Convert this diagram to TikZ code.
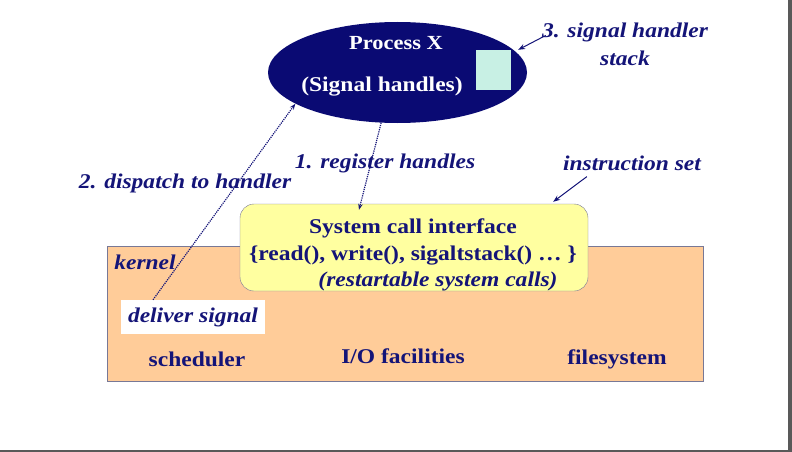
\documentclass[tikz,border=0pt]{standalone}
\usepackage{fontspec}
\setmainfont[FakeStretch=1.12]{Liberation Serif}
\usetikzlibrary{shapes.geometric}
\usetikzlibrary{arrows.meta}
\definecolor{navy}{RGB}{20,20,120}
\definecolor{procblue}{RGB}{10,10,115}
\definecolor{peach}{RGB}{255,204,153}
\definecolor{paleyellow}{RGB}{255,255,160}
\definecolor{stackgreen}{RGB}{200,240,228}
\definecolor{edgegray}{RGB}{120,120,150}
\tikzset{lbl/.style={text=navy, inner sep=0pt,
  font=\bfseries\itshape\fontsize{21}{25}\selectfont}}
\tikzset{txt/.style={text=navy, inner sep=0pt,
  font=\bfseries\fontsize{21}{25}\selectfont}}
\tikzset{dots/.style={navy, densely dotted, line width=1.2pt, -{Stealth[length=6pt]}}}
\tikzset{pointer/.style={navy, line width=1pt, -{Stealth[length=7pt]}}}

\begin{document}
\begin{tikzpicture}[x=1pt,y=-1pt]
      \useasboundingbox (0,0) rectangle (792,452);
      \fill [black!65] (788,0) rectangle (792,452);
      \fill [black!65] (0,450) rectangle (792,452);

      \node (kernel) [draw=edgegray, fill=peach, minimum width=596pt,
        minimum height=135pt, inner sep=0pt] at (405,313.5) {};
      \node (syscall) [draw=edgegray, fill=paleyellow, rounded corners=14pt,
        minimum width=348pt, minimum height=87pt, inner sep=0pt] at (414,247.5) {};
      \node [txt] at (413,228) {System call interface};
      \node [txt] at (413,256) {\{read(), write(), sigaltstack() … \}};
      \node [lbl] at (438,281) {(restartable system calls)};

      \node (proc) [ellipse, fill=procblue, minimum width=259pt,
        minimum height=101pt, inner sep=0pt] at (397.5,72.5) {};
      \node [txt, text=white, font=\bfseries\fontsize{20}{24}\selectfont] at (396,43) {Process X};
      \node [txt, text=white] at (382,87) {(Signal handles)};
      \node (stack) [fill=stackgreen, minimum width=35pt, minimum height=40pt,
        inner sep=0pt] at (493.5,70) {};

      \node (sighs) [lbl, align=center, font=\bfseries\itshape\fontsize{21}{28}\selectfont]
        at (625,44) {3. signal handler\\stack};
      \node (instr) [lbl] at (632,163) {instruction set};
      \node (reg) [lbl] at (385,163) {1. register handles};
      \node (disp) [lbl] at (185,183) {2. dispatch to handler};
      \node (klbl) [lbl] at (145,262) {kernel};
      \node (deliver) [lbl, fill=white, minimum width=144pt, minimum height=34pt]
        at (193,317) {deliver signal};
      \node (sched) [txt] at (197,359) {scheduler};
      \node (io) [txt] at (403,356) {I/O facilities};
      \node (fs) [txt] at (617,359) {filesystem};

      \draw [dots] ([shift={(-40,0)}]deliver.north) -- (proc.197);
      \draw [dots] (proc.252) -- ([shift={(-55,6)}]syscall.north);
      \draw [pointer] ([shift={(4,13)}]sighs.north west) -- ([shift={(7,0)}]stack.north east);
      \draw [pointer] ([shift={(24,6)}]instr.south west) -- ([shift={(-35,-2)}]syscall.north east);
    \end{tikzpicture}
\end{document}
